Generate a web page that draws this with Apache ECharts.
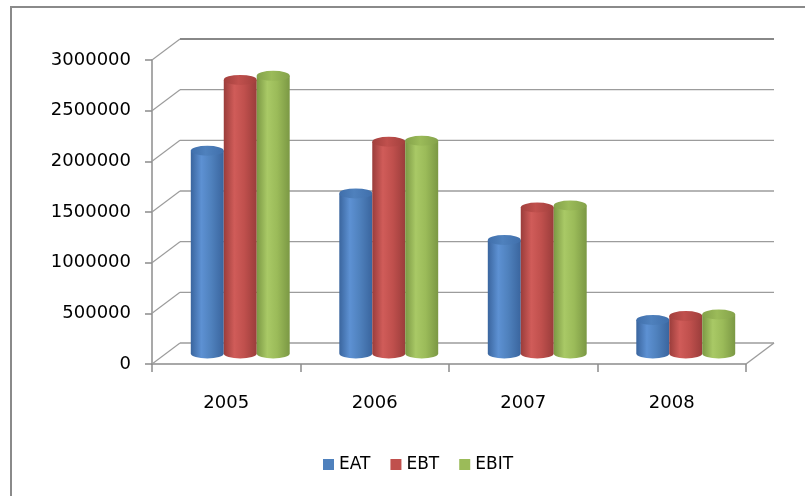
<!DOCTYPE html>
<html>
<head>
<meta charset="utf-8">
<script src="https://cdn.jsdelivr.net/npm/echarts@6/dist/echarts.min.js"></script>
<style>
  html, body { margin: 0; padding: 0; background: #fff; }
  #chart { width: 805px; height: 496px; }
</style>
</head>
<body>
<div id="chart"></div>
<script>
// Yearly earnings figures
const years = ['2005', '2006', '2007', '2008'];
const eat  = [2000000, 1580000, 1120000, 330000];
const ebt  = [2700000, 2090000, 1440000, 370000];
const ebit = [2740000, 2100000, 1460000, 385000];
const valueTicks = [0, 500000, 1000000, 1500000, 2000000, 2500000, 3000000];
const seriesNames = ['EAT', 'EBT', 'EBIT'];

const FONT = 'DejaVu Sans';
// offset of the back wall relative to the front plane (pseudo-3D depth)
const DEPTH_X = 28, DEPTH_Y = -21;
const MID_X = DEPTH_X / 2, MID_Y = DEPTH_Y / 2;

const shades = [
  { base: '#4f81bd', light: '#5d91d3', dark: '#3a659e', top: '#406fab' },
  { base: '#c0504d', light: '#d05c59', dark: '#9a3d3b', top: '#a2403d' },
  { base: '#9bbb59', light: '#a9c966', dark: '#7b9844', top: '#84a24a' }
];

// gridlines on the back wall plus the diagonal connectors on the left wall / floor
function wallLines(params, api) {
  const cs = params.coordSys;
  const v = api.value(1);
  const y = api.coord([0, v])[1];
  const x0 = cs.x, x1 = cs.x + cs.width;
  const stroke = '#9c9c9c';
  const children = [
    { type: 'line', shape: { x1: x0, y1: y, x2: x0 + DEPTH_X, y2: y + DEPTH_Y },
      style: { stroke: stroke, lineWidth: 1.2 } },
    { type: 'line', shape: { x1: x0 + DEPTH_X, y1: y + DEPTH_Y, x2: x1 + DEPTH_X, y2: y + DEPTH_Y },
      style: { stroke: v === 3000000 ? '#888' : stroke, lineWidth: v === 3000000 ? 2 : 1.4 } }
  ];
  if (v === 0) {
    children.push({ type: 'line', shape: { x1: x1, y1: y, x2: x1 + DEPTH_X, y2: y + DEPTH_Y },
      style: { stroke: stroke, lineWidth: 1.4 } });
  }
  return { type: 'group', children: children };
}

// cylinder drawn in the middle depth plane
function cylinder(slot) {
  const c = shades[slot];
  return function (params, api) {
    const cat = api.value(0), v = api.value(1);
    const topPt = api.coord([cat, v]);
    const basePt = api.coord([cat, 0]);
    const catW = api.size([1, 0])[0];
    const w = catW * 0.222;
    const cx = topPt[0] + MID_X + (slot - 1) * w;
    const ty = topPt[1] + MID_Y, by = basePt[1] + MID_Y;
    const rx = w / 2, ry = 5;
    const x0 = cx - rx, x1 = cx + rx;
    const body = 'M' + x0 + ' ' + ty + ' L' + x0 + ' ' + by +
      ' A' + rx + ' ' + ry + ' 0 0 0 ' + x1 + ' ' + by +
      ' L' + x1 + ' ' + ty + ' Z';
    const cap = 'M' + x0 + ' ' + ty +
      ' A' + rx + ' ' + ry + ' 0 0 0 ' + x1 + ' ' + ty +
      ' A' + rx + ' ' + ry + ' 0 0 0 ' + x0 + ' ' + ty + ' Z';
    return {
      type: 'group',
      children: [
        { type: 'path', shape: { pathData: body },
          style: { fill: { type: 'linear', x: 0, y: 0, x2: 1, y2: 0, colorStops: [
            { offset: 0, color: c.dark }, { offset: 0.32, color: c.light },
            { offset: 0.62, color: c.base }, { offset: 1, color: c.dark } ] } } },
        { type: 'path', shape: { pathData: cap },
          style: { fill: { type: 'linear', x: 0, y: 0, x2: 1, y2: 0, colorStops: [
            { offset: 0, color: c.top }, { offset: 0.45, color: c.base },
            { offset: 1, color: c.top } ] } } }
      ]
    };
  };
}

const chart = echarts.init(document.getElementById('chart'));
const columns = [eat, ebt, ebit];

chart.setOption({
  animation: false,
  backgroundColor: '#fff',
  graphic: [{
    type: 'rect', silent: true, z: 0,
    shape: { x: 11, y: 7, width: 820, height: 520 },
    style: { fill: 'none', stroke: '#8a8a8a', lineWidth: 2 }
  }],
  grid: { left: 152, right: 59, top: 60, bottom: 132 },
  legend: {
    data: seriesNames,
    left: 318, top: 451,
    icon: 'rect', itemWidth: 11, itemHeight: 11, itemGap: 20,
    textStyle: { fontFamily: FONT, fontSize: 17, color: '#000' }
  },
  xAxis: {
    type: 'category',
    data: years,
    boundaryGap: true,
    axisLine: { lineStyle: { color: '#8c8c8c', width: 1.5 } },
    axisTick: { show: true, length: 8, alignWithLabel: false, interval: 0,
      lineStyle: { color: '#8c8c8c', width: 1.5 } },
    axisLabel: { margin: 30, fontFamily: FONT, fontSize: 18, color: '#000' },
    splitLine: { show: false }
  },
  yAxis: {
    type: 'value',
    min: 0, max: 3000000, interval: 500000,
    axisLine: { show: true, lineStyle: { color: '#8c8c8c', width: 1.5 } },
    axisTick: { show: true, length: 7, lineStyle: { color: '#8c8c8c', width: 1.5 } },
    axisLabel: { margin: 21, fontFamily: FONT, fontSize: 18, color: '#000',
      formatter: v => String(v) },
    splitLine: { show: false }
  },
  series: [
    {
      type: 'custom', name: 'wall', silent: true, z: 1, clip: false,
      data: valueTicks.map(v => [0, v]),
      renderItem: wallLines
    }
  ].concat(seriesNames.map((name, i) => ({
    type: 'custom', name: name, z: 3 + i, clip: false,
    itemStyle: { color: shades[i].base },
    data: columns[i].map((v, k) => [k, v]),
    renderItem: cylinder(i)
  })))
});
</script>
</body>
</html>
